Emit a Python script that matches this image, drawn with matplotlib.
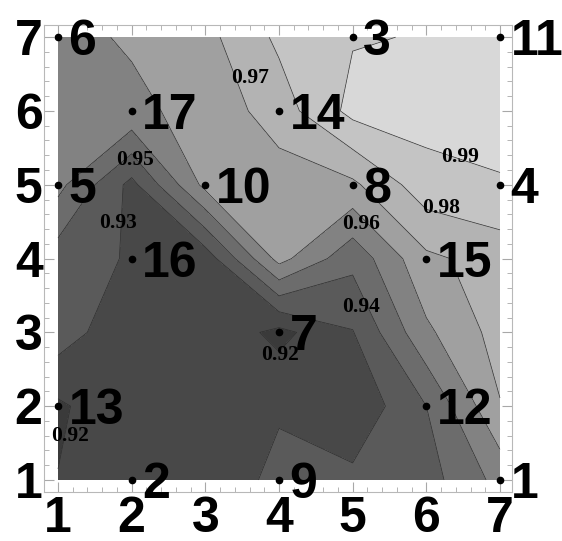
import numpy as np
import matplotlib.pyplot as plt
from matplotlib.ticker import MultipleLocator

# grid coordinates
xs = [1, 2, 3, 4, 5, 6, 7]
ys = [1, 2, 3, 4, 5, 6, 7]

# measured values, one row per y (bottom row first)
z_rows = [
    [0.9203, 0.9220, 0.9210, 0.9335, 0.9324, 0.9358, 0.9533],
    [0.9183, 0.9283, 0.9240, 0.9285, 0.9220, 0.9400, 0.9695],
    [0.9353, 0.9220, 0.9285, 0.9170, 0.9295, 0.9580, 0.9740],
    [0.9350, 0.9290, 0.9240, 0.9635, 0.9430, 0.9680, 0.9742],
    [0.9530, 0.9270, 0.9630, 0.9650, 0.9680, 0.9860, 0.9891],
    [0.9570, 0.9580, 0.9630, 0.9750, 0.9930, 0.9940, 0.9945],
    [0.9575, 0.9610, 0.9670, 0.9820, 0.9893, 0.9905, 0.9960],
]

levels = [0.90, 0.92, 0.93, 0.94, 0.95, 0.96, 0.97, 0.98, 0.99, 1.00]
band_colors = ['#3a3a3a', '#484848', '#5a5a5a', '#6c6c6c', '#828282',
               '#a0a0a0', '#b3b3b3', '#c4c4c4', '#d8d8d8']

# labelled nodes
node_ids = [6, 3, 11, 17, 14, 5, 10, 8, 4, 16, 15, 7, 13, 12, 2, 9, 1]
node_x = [1, 5, 7, 2, 4, 1, 3, 5, 7, 2, 6, 4, 1, 6, 2, 4, 7]
node_y = [7, 7, 7, 6, 6, 5, 5, 5, 5, 4, 4, 3, 2, 2, 1, 1, 1]

# contour label positions
clab_level = [0.97, 0.99, 0.98, 0.96, 0.95, 0.93, 0.94, 0.92, 0.92]
clab_x = [3.61, 6.46, 6.20, 5.12, 2.05, 1.82, 5.12, 4.01, 1.16]
clab_y = [6.45, 5.38, 4.68, 4.47, 5.34, 4.48, 3.35, 2.69, 1.59]

X, Y = np.meshgrid(xs, ys)
Z = np.array(z_rows)

fig = plt.figure(figsize=(5.62, 5.41), dpi=100)
ax = fig.add_axes([0.0783, 0.0906, 0.8327, 0.8632])

ax.contourf(X, Y, Z, levels=levels, colors=band_colors)
ax.contour(X, Y, Z, levels=levels[1:-1], colors='#2e2e2e', linewidths=0.5)

big = dict(family='Liberation Sans', weight='bold', size=36)
for n, x, y in zip(node_ids, node_x, node_y):
    ax.plot(x, y, 'o', color='black', ms=4.5, zorder=5)
    ax.annotate(str(n), (x, y), xytext=(7.5, 0), textcoords='offset points',
                ha='left', va='center_baseline', zorder=6, **big)

for lev, x, y in zip(clab_level, clab_x, clab_y):
    ax.text(x, y, '%.2f' % lev, ha='center', va='center',
            family='Liberation Serif', weight='bold', size=15.5, zorder=4)

ax.set_xlim(0.81, 7.163)
ax.set_ylim(0.837, 7.165)
ax.set_xticks(xs)
ax.set_yticks(ys)
ax.xaxis.set_minor_locator(MultipleLocator(0.2))
ax.yaxis.set_minor_locator(MultipleLocator(0.2))
ax.tick_params(which='both', direction='in', top=True, right=True, color='#a8a8a8')
ax.tick_params(which='major', length=7, pad=3)
ax.tick_params(which='minor', length=3.5)
for lab in ax.get_xticklabels() + ax.get_yticklabels():
    lab.set_fontfamily('Liberation Sans')
    lab.set_fontweight('bold')
    lab.set_fontsize(36)
ax.tick_params(axis='y', pad=1)
for s in ax.spines.values():
    s.set_color('#b8b8b8')
    s.set_linewidth(0.8)

fig.savefig('out.png', dpi=100)
